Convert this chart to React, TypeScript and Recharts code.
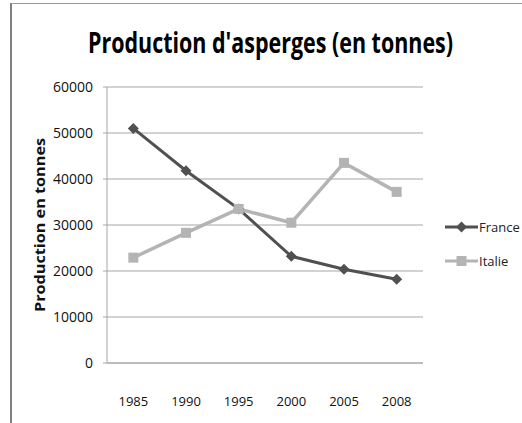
import React from 'react';
import { LineChart, Line, XAxis, YAxis, CartesianGrid } from 'recharts';

const years = ['1985', '1990', '1995', '2000', '2005', '2008'];
const france = [51000, 41800, 33500, 23200, 20400, 18200];
const italie = [22900, 28300, 33500, 30500, 43500, 37200];
const yTicks = [0, 10000, 20000, 30000, 40000, 50000, 60000];
const seriesNames = ['France', 'Italie'];

const data = years.map((year, i) => ({ year, France: france[i], Italie: italie[i] }));

const FONT = '"Open Sans", "DejaVu Sans", sans-serif';
const FRANCE_COLOR = '#505050';
const ITALIE_COLOR = '#b4b4b4';

const Diamond = ({ cx, cy }: any) => (
  <polygon
    points={`${cx},${cy - 5.5} ${cx + 5.5},${cy} ${cx},${cy + 5.5} ${cx - 5.5},${cy}`}
    fill={FRANCE_COLOR}
  />
);

const Square = ({ cx, cy }: any) => (
  <rect x={cx - 5} y={cy - 5} width={10} height={10} fill={ITALIE_COLOR} />
);

// Excel style legend: line sample with marker, label on the right
const LegendBox = () => (
  <div style={{ position: 'absolute', left: 445, top: 210, fontFamily: FONT, fontSize: 13, color: '#222' }}>
    {seriesNames.map((name, i) => (
      <div key={name} style={{ display: 'flex', alignItems: 'center', height: 34 }}>
        <svg width={33} height={12}>
          <line x1={0} y1={6} x2={33} y2={6} stroke={i === 0 ? FRANCE_COLOR : ITALIE_COLOR} strokeWidth={3} />
          {i === 0 ? <Diamond cx={16.5} cy={6} /> : <Square cx={16.5} cy={6} />}
        </svg>
        <span style={{ marginLeft: 1 }}>{name}</span>
      </div>
    ))}
  </div>
);

export default function App() {
  return (
    <div style={{ position: 'absolute', left: 0, top: 0, width: 522, height: 423, background: '#fff' }}>
      <div
        style={{
          position: 'absolute',
          left: 10,
          top: 3,
          width: 512,
          height: 420,
          borderLeft: '2px solid #808080',
          borderTop: '1px solid #9a9a9a',
        }}
      />
      <svg width={522} height={80} style={{ position: 'absolute', left: 0, top: 0 }}>
        <text
          x={88}
          y={53}
          fontFamily={FONT}
          fontWeight="bold"
          fontSize={28}
          fill="#000"
          textLength={365}
          lengthAdjust="spacingAndGlyphs"
        >
          Production d'asperges (en tonnes)
        </text>
      </svg>
      <svg width={60} height={423} style={{ position: 'absolute', left: 0, top: 0 }}>
        <text
          transform="translate(45, 225) rotate(-90)"
          textAnchor="middle"
          fontFamily={FONT}
          fontWeight="bold"
          fontSize={14}
          fill="#111"
          textLength={174}
          lengthAdjust="spacingAndGlyphs"
        >
          Production en tonnes
        </text>
      </svg>
      <div style={{ position: 'absolute', left: 0, top: 0 }}>
        <LineChart width={522} height={423} data={data} margin={{ top: 87, right: 99, bottom: 30, left: 47 }}>
          <CartesianGrid vertical={false} stroke="#a6a6a6" />
          <XAxis
            dataKey="year"
            scale="band"
            height={30}
            axisLine={{ stroke: '#a6a6a6' }}
            tickLine={false}
            tickSize={0}
            tickMargin={34}
            tick={{ fontFamily: FONT, fontSize: 13, fill: '#111' }}
          />
          <YAxis
            width={60}
            domain={[0, 60000]}
            ticks={yTicks}
            axisLine={{ stroke: '#a6a6a6' }}
            tickLine={{ stroke: '#a6a6a6' }}
            tickSize={4}
            tickMargin={10}
            tick={{ fontFamily: FONT, fontSize: 14, fill: '#111' }}
          />
          <Line
            dataKey="France"
            stroke={FRANCE_COLOR}
            strokeWidth={3}
            dot={<Diamond />}
            activeDot={false}
            isAnimationActive={false}
          />
          <Line
            dataKey="Italie"
            stroke={ITALIE_COLOR}
            strokeWidth={3.5}
            dot={<Square />}
            activeDot={false}
            isAnimationActive={false}
          />
        </LineChart>
      </div>
      <LegendBox />
    </div>
  );
}
